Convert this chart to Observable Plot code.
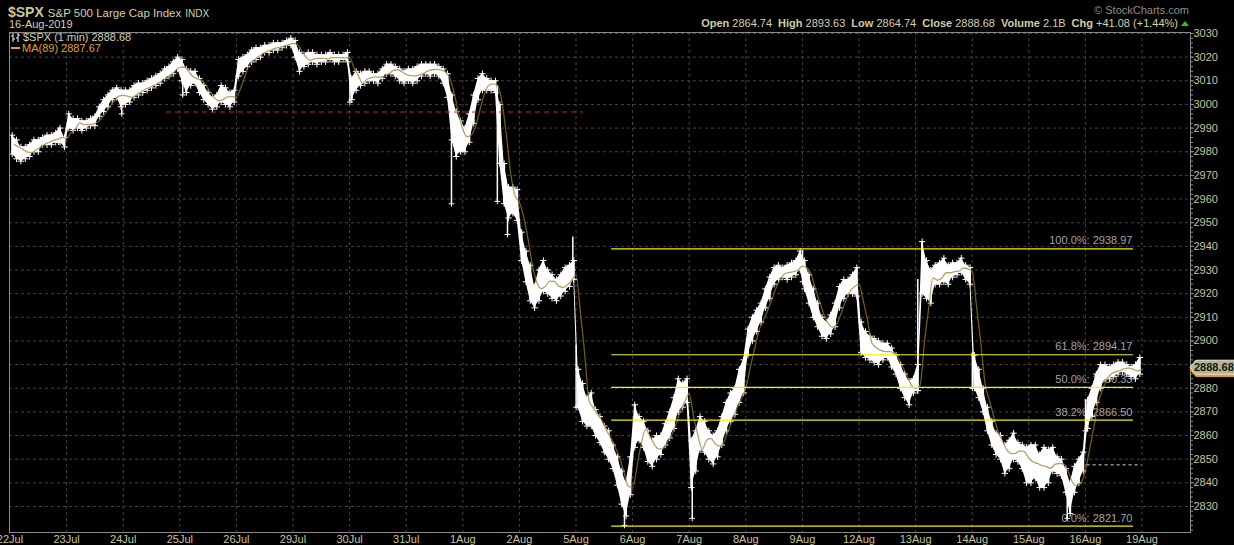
<!DOCTYPE html>
<html>
<head>
<meta charset="utf-8">
<script src="https://cdn.jsdelivr.net/npm/d3@7"></script>
<script src="https://cdn.jsdelivr.net/npm/@observablehq/plot@0.6"></script>
<style>
  html, body { margin: 0; padding: 0; background: #000; }
  #wrap { position: relative; width: 1234px; height: 545px; overflow: hidden;
          font-family: "Liberation Sans", Arial, sans-serif; color: #c8c8a0; }
  #chart { position: absolute; left: 0; top: 0; }
  #title { position: absolute; left: 8px; top: 3px; white-space: nowrap; }
  #title .sym { font-size: 14px; font-weight: bold; color: #c9c79c; }
  #title .name { font-size: 11.5px; color: #d2d0b0; margin-left: 4px; }
  #title .ex { font-size: 10px; color: #d2d0b0; margin-left: 4px; }
  #date { position: absolute; left: 9px; top: 18px; font-size: 11px; color: #d2d0b0; }
  #credit { position: absolute; right: 45px; top: 4px; font-size: 11px; color: #8e8e80; }
  #quote { position: absolute; right: 45px; top: 17px; font-size: 11px; color: #d2d0b0; white-space: nowrap; }
  #quote b { margin-left: 6px; color: #cfcda4; }
  #quote .up { display: inline-block; width: 0; height: 0; margin-left: 3px; vertical-align: 1px;
               border-left: 4px solid transparent; border-right: 4px solid transparent; border-bottom: 5px solid #2ec02e; }
  #legend { position: absolute; left: 11px; top: 32px; font-size: 11px; line-height: 11px; }
  #legend .price { color: #d2d0b0; }
  #legend .ma { color: #e0a030; }
  #legend .dash { display: inline-block; width: 9px; height: 2px; background: #e0a030; vertical-align: 3px; margin-right: 2px; }
  #legend svg { vertical-align: -1px; margin-right: 3px; }
</style>
</head>
<body>
<div id="wrap">
  <div id="chart"></div>
  <div id="title"><span class="sym">$SPX</span><span class="name">S&amp;P 500 Large Cap Index</span><span class="ex">INDX</span></div>
  <div id="date">16-Aug-2019</div>
  <div id="credit">© StockCharts.com</div>
  <div id="quote"></div>
  <div id="legend"></div>
</div>
<script>
// Trading sessions shown on the time axis (one column per day)
const sessions = ["22Jul","23Jul","24Jul","25Jul","26Jul","29Jul","30Jul","31Jul","1Aug","2Aug",
                  "5Aug","6Aug","7Aug","8Aug","9Aug","12Aug","13Aug","14Aug","15Aug","16Aug"];
const nextSession = "19Aug";
const bucketsPerSession = 13;          // half-hour blocks, 09:30 to 16:00
const sessionOpenMinute = 9 * 60 + 30;
const sessionLength = 390;

// Half-hour trading ranges of the 1-minute bars (low / high per block)
const barLows = [
  [2979,2977,2976,2977,2978,2980,2980,2983,2983,2983,2984,2984,2982],
  [2990,2989,2990,2989,2990,2991,2991,2995,2997,2999,3002,3003,2999],
  [3000,3001,3003,3004,3005,3006,3007,3008,3009,3011,3012,3013,3015],
  [3010,3005,3008,3009,3005,3002,3000,2998,2999,3001,3000,2999,3001],
  [3012,3014,3016,3018,3019,3020,3022,3022,3023,3023,3024,3025,3025],
  [3020,3014,3016,3017,3018,3017,3018,3018,3019,3018,3018,3019,3018],
  [3002,3006,3008,3009,3010,3010,3009,3011,3013,3013,3012,3010,3009],
  [3010,3009,3010,3012,3013,3012,3013,3012,3009,3003,2985,2978,2980],
  [2980,2984,2992,3002,3006,3006,3006,3005,2975,2958,2952,2954,2951],
  [2934,2925,2917,2914,2917,2921,2920,2918,2917,2919,2921,2923,2926],
  [2872,2866,2864,2864,2860,2857,2853,2850,2846,2839,2831,2826,2835],
  [2855,2858,2855,2849,2847,2850,2852,2856,2859,2863,2870,2872,2874],
  [2838,2845,2854,2853,2850,2848,2851,2856,2862,2866,2869,2874,2878],
  [2894,2900,2904,2908,2914,2918,2924,2926,2927,2926,2927,2928,2930],
  [2922,2916,2910,2906,2902,2901,2903,2906,2914,2918,2920,2920,2919],
  [2895,2893,2892,2891,2890,2892,2893,2889,2886,2880,2876,2873,2878],
  [2879,2920,2918,2916,2924,2924,2925,2924,2927,2928,2929,2926,2924],
  [2880,2876,2870,2862,2856,2852,2850,2844,2846,2850,2849,2846,2840],
  [2840,2842,2838,2838,2840,2845,2844,2843,2836,2827,2836,2840,2845],
  [2863,2868,2874,2880,2884,2884,2885,2886,2887,2886,2885,2884,2886]
];
const barHighs = [
  [2987,2985,2982,2982,2983,2985,2985,2986,2987,2987,2988,2990,2986],
  [2996,2994,2994,2993,2993,2994,2995,2999,3002,3004,3006,3007,3006],
  [3006,3006,3008,3009,3009,3010,3011,3012,3013,3015,3016,3018,3020],
  [3019,3015,3014,3014,3011,3008,3005,3003,3004,3008,3007,3005,3006],
  [3019,3020,3021,3023,3024,3024,3025,3025,3026,3026,3026,3027,3028],
  [3027,3022,3021,3022,3022,3021,3021,3021,3022,3021,3021,3021,3022],
  [3011,3014,3013,3014,3014,3013,3013,3015,3017,3017,3016,3015,3014],
  [3015,3015,3016,3017,3017,3017,3017,3016,3015,3013,3004,2997,2993],
  [2990,2996,3004,3011,3013,3011,3010,3010,3000,2975,2965,2965,2964],
  [2946,2938,2932,2923,2930,2934,2930,2928,2926,2928,2931,2932,2934],
  [2888,2882,2876,2878,2871,2868,2864,2862,2856,2851,2845,2840,2851],
  [2873,2868,2866,2862,2858,2860,2860,2865,2870,2876,2884,2882,2884],
  [2858,2862,2868,2866,2862,2860,2862,2868,2874,2878,2880,2888,2892],
  [2905,2910,2913,2916,2922,2927,2931,2932,2931,2932,2933,2934,2938],
  [2934,2928,2922,2916,2910,2908,2911,2916,2923,2926,2926,2928,2931],
  [2908,2904,2902,2901,2900,2899,2899,2897,2894,2890,2886,2883,2884],
  [2890,2942,2934,2930,2932,2933,2935,2932,2933,2933,2935,2932,2931],
  [2894,2888,2880,2872,2866,2861,2860,2856,2858,2861,2857,2856,2855],
  [2856,2856,2852,2855,2854,2855,2851,2850,2846,2840,2847,2850,2853],
  [2875,2880,2886,2890,2890,2889,2890,2891,2891,2890,2889,2890,2893]
];

// Single-minute spikes and opening gaps: [session, time, low, high]
const spikes = [
  ["22Jul","15:05",2984,2990],
  ["23Jul","15:50",2996,3005],
  ["25Jul","09:50",3004,3016],
  ["30Jul","09:32",3001,3013],
  ["31Jul","14:42",2958,3004],
  ["1Aug","13:28",2959,3008],
  ["1Aug","14:38",2945,2960],
  ["2Aug","15:38",2930,2944],
  ["5Aug","09:31",2872,2898],
  ["5Aug","15:04",2822,2836],
  ["7Aug","09:51",2825,2845],
  ["9Aug","09:31",2925,2938],
  ["13Aug","09:45",2879,2926],
  ["14Aug","09:31",2880,2895],
  ["15Aug","13:55",2825,2838],
  ["16Aug","09:31",2862,2875]
];

// Fibonacci retracement drawn from the 5-Aug low to the 13-Aug high
const fibLabels = ["100.0%","61.8%","50.0%","38.2%","0.0%"];
const fibValues = [2938.97, 2894.17, 2880.33, 2866.50, 2821.70];
const fibFrom = ["5Aug","13:36"];
const fibTo = ["16Aug","15:01"];

// Annotation lines
const supportLevel = 2996.8, supportFrom = ["24Jul","14:28"], supportTo = ["5Aug","10:21"];
const prevCloseLevel = 2847.60, prevCloseFrom = ["16Aug","09:42"], prevCloseTo = ["16Aug","16:00"];

// Quote summary
const quoteFields = ["Open","High","Low","Close","Volume","Chg"];
const quoteValues = ["2864.74","2893.63","2864.74","2888.68","2.1B","+41.08 (+1.44%)"];
const lastClose = 2888.68;
const lastMA = 2887.67;
const maPeriod = 89;

const yTicks = d3.range(2830, 3031, 10);
const yMinor = d3.range(2820, 3031, 2);

// ---------------------------------------------------------------------------
const toSession = ([day, hhmm]) => {
  const [h, m] = hhmm.split(":").map(Number);
  const idx = day === nextSession ? sessions.length : sessions.indexOf(day);
  return idx + (h * 60 + m - sessionOpenMinute) / sessionLength;
};

const bars = [];
sessions.forEach((day, i) => {
  barLows[i].forEach((lo, k) => {
    const hi = barHighs[i][k];
    bars.push({t: i + (k + 0.5) / bucketsPerSession, lo, hi, mid: (lo + hi) / 2});
  });
});
const halfBucket = 0.5 / bucketsPerSession;
const spikeRows = spikes.map(([day, time, lo, hi]) => ({t: toSession([day, time]), lo, hi}));
const fibRows = fibValues.map((v, i) => ({label: fibLabels[i], value: v}));
const fibStart = toSession(fibFrom), fibEnd = toSession(fibTo);
const axisDates = [...sessions, nextSession];

const chart = Plot.plot({
  width: 1234,
  height: 545,
  marginTop: 32,
  marginBottom: 13,
  marginLeft: 9,
  marginRight: 44,
  style: {background: "#000", color: "#c8c8a0", fontFamily: "'Liberation Sans', Arial, sans-serif", fontSize: "11px"},
  x: {type: "linear", domain: [-0.009, 20.857], label: null},
  y: {domain: [2819.0, 3030.42], label: null},
  marks: [
    Plot.gridX(d3.range(1, sessions.length + 1), {stroke: "#444", strokeOpacity: 1, strokeDasharray: "3,3"}),
    Plot.gridY(yTicks, {stroke: "#444", strokeOpacity: 1, strokeDasharray: "3,3"}),
    Plot.text(fibRows, {x: () => fibEnd, y: "value", text: d => `${d.label}: ${d.value.toFixed(2)}`,
                        textAnchor: "end", dy: -8, dx: -1, fill: "#a4a4a4", fontSize: 11}),
    // price band: half-hour ranges with their minute ticks, plus single-minute spikes
    Plot.areaY(bars, {x: "t", y1: "lo", y2: "hi", fill: "#fff", curve: "linear"}),
    Plot.ruleX(bars, {x: "t", y1: "lo", y2: "hi", stroke: "#fff", strokeWidth: 2}),
    Plot.dot(bars, {x: "t", y: "lo", symbol: "plus", r: 2.2, stroke: "#fff", strokeWidth: 1}),
    Plot.dot(bars, {x: "t", y: "hi", symbol: "plus", r: 2.2, stroke: "#fff", strokeWidth: 1}),
    Plot.ruleX(spikeRows, {x: "t", y1: "lo", y2: "hi", stroke: "#fff", strokeWidth: 1.5}),
    Plot.dot(spikeRows, {x: "t", y: "lo", symbol: "plus", r: 2, stroke: "#fff", strokeWidth: 1}),
    // trailing moving average of the price path
    Plot.line(bars, Plot.windowY({k: 3, anchor: "end"}, {
      x: d => d.t + halfBucket, y: "mid", stroke: "#9a7a30", strokeOpacity: 0.72, strokeWidth: 1.3, curve: "monotone-x"
    })),
    Plot.ruleY(fibRows, {y: "value", x1: () => fibStart, x2: () => fibEnd, stroke: "#f2f200", strokeWidth: 1.2}),
    Plot.ruleY([supportLevel], {x1: () => toSession(supportFrom), x2: () => toSession(supportTo),
                                stroke: "#c82020", strokeWidth: 1, strokeDasharray: "5,4"}),
    Plot.ruleY([prevCloseLevel], {x1: () => toSession(prevCloseFrom), x2: () => toSession(prevCloseTo),
                                  stroke: "#ddd6b8", strokeWidth: 1, strokeDasharray: "3,3"}),
    Plot.frame({stroke: "#8a8a8a"}),
    Plot.axisX({ticks: d3.range(0, axisDates.length), tickFormat: i => axisDates[i], label: null,
                tickSize: 0, tickPadding: 3, fill: "#c8c49c", fontSize: 11}),
    Plot.axisY({anchor: "right", ticks: yMinor, tickSize: 2, tickFormat: () => "", label: null, stroke: "#8a8a8a"}),
    Plot.axisY({anchor: "right", ticks: yTicks, tickSize: 3, tickPadding: 0, tickFormat: d => String(d), label: null,
                stroke: "#8a8a8a", fill: "#c8c49c", fontSize: 11})
  ]
});
document.getElementById("chart").appendChild(chart);

// Value flags on the price axis: moving average edge behind, last price on top
const svg = d3.select(chart);
const ys = chart.scale("y"), xs = chart.scale("x");
const axisX0 = xs.range[1];
function flagPath(y) { return `M${axisX0},${y} l6,-7 h40 v14 h-40 z`; }
svg.append("path").attr("d", flagPath(ys.apply(lastMA))).attr("fill", "#e0a030").attr("stroke", "#e0a030");
const yClose = ys.apply(lastClose);
svg.append("path").attr("d", flagPath(yClose)).attr("fill", "#b4b494").attr("stroke", "#e6e6cc");
svg.append("text")
  .attr("x", axisX0 + 4).attr("y", yClose).attr("dy", "0.36em")
  .attr("text-anchor", "start")
  .attr("fill", "#16160e").attr("font-size", 11).attr("font-weight", "bold")
  .text(lastClose.toFixed(2));

// Header quote line
document.getElementById("quote").innerHTML =
  quoteFields.map((f, i) => `<b>${f}</b> ${quoteValues[i]}`).join("") + '<span class="up"></span>';

// In-chart legend
document.getElementById("legend").innerHTML =
  `<div class="price"><svg width="9" height="9"><path d="M2,0v9M0,3h2M2,6h2M7,0v9M5,5h2M7,2h2" stroke="#fff" stroke-width="1" fill="none"/></svg>$SPX (1 min) ${lastClose.toFixed(2)}</div>` +
  `<div class="ma"><span class="dash"></span>MA(${maPeriod}) ${lastMA.toFixed(2)}</div>`;
</script>
</body>
</html>
